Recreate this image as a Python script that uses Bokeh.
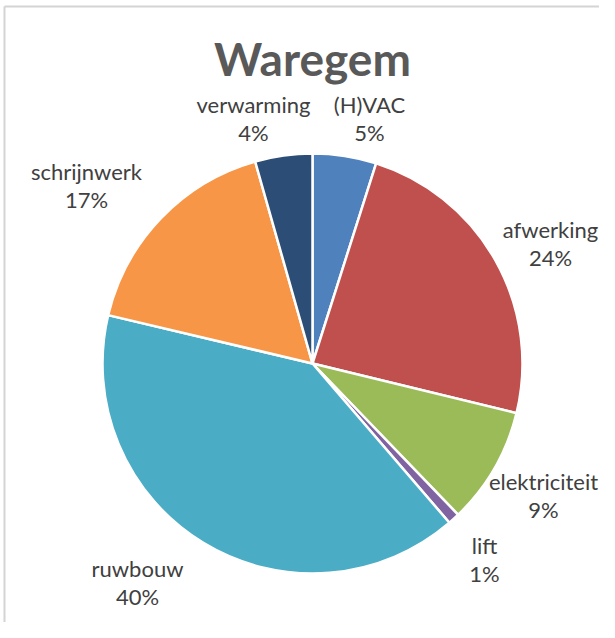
import math
from bokeh.plotting import figure
from bokeh.models import Range1d, ColumnDataSource
from bokeh.core.properties import value
from bokeh.embed import file_html
from bokeh.resources import INLINE

# ---- data (clockwise from 12 o'clock) ----
categories = ["(H)VAC", "afwerking", "elektriciteit", "lift", "ruwbouw", "schrijnwerk", "verwarming"]
shares = [4.9, 23.9, 9.0, 0.9, 40.0, 16.9, 4.4]
colors = ["#4F81BD", "#C0504D", "#9BBB59", "#8064A2", "#4BACC6", "#F79646", "#2C4D75"]

# label anchor points (screen px, centre x / first-line baseline)
label_x = [369, 550, 543, 484, 137, 86, 253]
label_y = [104, 229, 481, 545, 568, 171, 104]
line_gap = 28

# ---- geometry ----
W, H = 599, 622
cx, cy, R = 312, 363, 210

total = sum(shares)
starts, ends = [], []
cum = 0.0
for s in shares:
    a0 = math.pi / 2 - 2 * math.pi * (cum + s) / total
    a1 = math.pi / 2 - 2 * math.pi * cum / total
    starts.append(a0)
    ends.append(a1)
    cum += s

pcts = [f"{round(s / total * 100):.0f}%" for s in shares]

src = ColumnDataSource(dict(
    x=[cx] * len(shares), y=[-cy] * len(shares),
    start=starts, end=ends, color=colors,
))

p = figure(width=W, height=H, output_backend="svg", toolbar_location=None,
           x_range=Range1d(0, W), y_range=Range1d(-H, 0),
           min_border=0, outline_line_color=None, background_fill_color="white",
           border_fill_color="white")
p.axis.visible = False
p.grid.visible = False

# chart-area frame (left and top edges visible)
p.segment(x0=[4, 4], y0=[-6, -6], x1=[4, W], y1=[-H, -6],
          line_color="#D4D4D4", line_width=2)

p.wedge(x="x", y="y", radius=R, start_angle="start", end_angle="end",
        fill_color="color", line_color="white", line_width=2.5, source=src)

lsrc = ColumnDataSource(dict(
    x=label_x, y1=[-v for v in label_y], y2=[-(v + line_gap) for v in label_y],
    name=categories, pct=pcts,
))
p.text(x="x", y="y1", text="name", source=lsrc, text_align="center",
       text_baseline="alphabetic", text_font=value("Lato"), text_font_size="22px",
       text_color="#404040")
p.text(x="x", y="y2", text="pct", source=lsrc, text_align="center",
       text_baseline="alphabetic", text_font=value("Lato"), text_font_size="22px",
       text_color="#404040")

p.text(x=[cx], y=[-58], text=["Waregem"], text_align="center",
       text_baseline="alphabetic", text_font=value("Lato"), text_font_size="46px",
       text_font_style="bold", text_color="#595959")

open("out.html", "w").write(file_html(p, INLINE))
